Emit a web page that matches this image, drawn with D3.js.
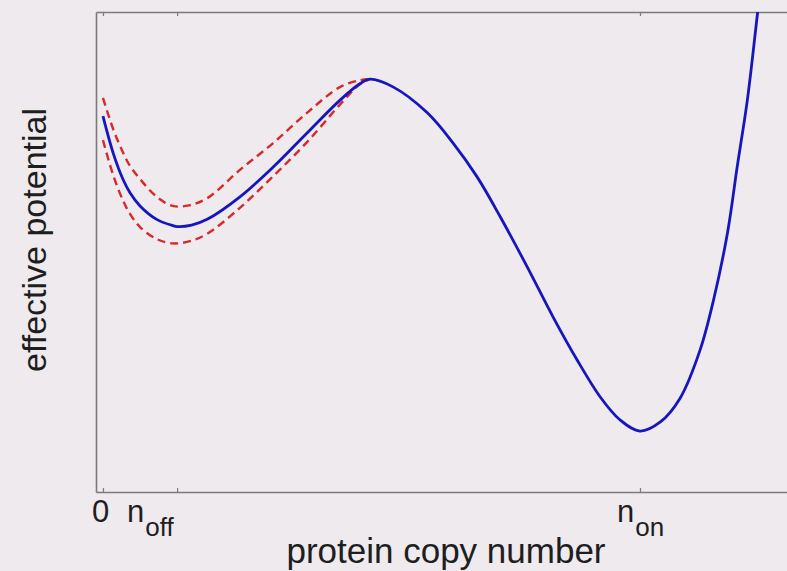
<!DOCTYPE html>
<html>
<head>
<meta charset="utf-8">
<script src="https://cdn.jsdelivr.net/npm/d3@7"></script>
<style>
  html, body { margin: 0; padding: 0; background: #eeeaee; }
  svg { display: block; }
  text { font-family: "Liberation Sans", Arial, Helvetica, sans-serif; fill: #1e1e1e; }
</style>
</head>
<body>
<script>
// Copy-number positions (n) and effective potential sampled along each curve
const nMean = [0, 1.9, 3.7, 5.0, 6.9, 10.0, 13.0, 13.8, 16.5, 19.4, 25.5, 31.7, 38.0, 44.2, 47.9, 49.7, 54.0, 60.4, 65.2, 69.7, 74.0, 79.0, 83.8, 88.3, 92.6, 96.3, 100, 103.8, 107.5, 111.2, 113.7, 116.3, 118.1, 120.0, 121.9, 122.8];
const potentialMean = [78.3, 70.6, 65.2, 62.4, 59.6, 56.8, 55.5, 55.3, 55.6, 56.8, 61.5, 67.7, 74.8, 81.7, 85.1, 86.0, 84.4, 79.0, 72.7, 65.6, 57.3, 46.9, 36.5, 27.5, 19.8, 15.0, 12.7, 14.6, 19.6, 29.6, 40.0, 54.0, 67.7, 81.7, 99.8, 108];

const nUpper = [0, 1.9, 3.7, 5.0, 6.9, 10.0, 13.0, 16.0, 19.4, 25.5, 31.7, 38.0, 44.2, 47.9, 49.7];
const potentialUpper = [82.1, 75.6, 70.8, 68.0, 65.2, 61.5, 59.6, 59.7, 61.2, 67.1, 72.7, 79.0, 84.4, 85.8, 86.0];

const nLower = [0, 1.9, 3.7, 5.0, 6.9, 10.0, 13.0, 16.0, 19.4, 25.5, 31.7, 38.0, 44.2, 47.9, 49.7];
const potentialLower = [73.3, 66.0, 60.8, 58.0, 55.2, 52.7, 51.8, 52.2, 53.8, 59.2, 65.8, 72.9, 80.8, 85.0, 86.0];

// Marked copy numbers on the horizontal axis
const tickValues = [0, 13.8, 100];
const tickNames = [["0", ""], ["n", "off"], ["n", "on"]];

const xLabel = "protein copy number";
const yLabel = "effective potential";

const W = 787, H = 571;
const plot = { left: 96, top: 12, right: 800, bottom: 492 };

// Horizontal placement of each tick label relative to its tick
const labelShift = [-11, -50, -23];

const x = d3.scaleLinear().domain([-1.3, 129.8]).range([plot.left, plot.right]);
const y = d3.scaleLinear().domain([0, 100]).range([plot.bottom, plot.top]);

const svg = d3.select("body").append("svg").attr("width", W).attr("height", H);

svg.append("defs").append("clipPath").attr("id", "plot-clip")
  .append("rect")
  .attr("x", plot.left).attr("y", plot.top)
  .attr("width", plot.right - plot.left).attr("height", plot.bottom - plot.top);

// Frame: bottom and top axes with inward ticks, plus the left edge
const axisStyle = g => {
  g.select(".domain").attr("stroke", "#7b7b7b").attr("stroke-width", 1.6);
  g.selectAll(".tick line").attr("stroke", "#7b7b7b").attr("stroke-width", 1.2);
  g.selectAll(".tick text").remove();
};

svg.append("g")
  .attr("transform", `translate(0,${plot.bottom})`)
  .call(d3.axisBottom(x).tickValues(tickValues).tickSizeInner(-4).tickSizeOuter(0))
  .call(axisStyle);

svg.append("g")
  .attr("transform", `translate(0,${plot.top})`)
  .call(d3.axisTop(x).tickValues(tickValues).tickSizeInner(-4).tickSizeOuter(0))
  .call(axisStyle);

svg.append("g")
  .attr("transform", `translate(${plot.left},0)`)
  .call(d3.axisLeft(y).tickValues([]).tickSizeOuter(0))
  .call(axisStyle);

// Curves
const line = d3.line().curve(d3.curveCatmullRom.alpha(0.5));
const toPts = (ns, vs) => ns.map((n, i) => [x(n), y(vs[i])]);

const curves = svg.append("g").attr("clip-path", "url(#plot-clip)");

[[nUpper, potentialUpper], [nLower, potentialLower]].forEach(([ns, vs]) => {
  curves.append("path")
    .attr("d", line(toPts(ns, vs)))
    .attr("fill", "none").attr("stroke", "#d62a2a").attr("stroke-width", 2.4)
    .attr("stroke-dasharray", "8,5");
});

curves.append("path")
  .attr("d", line(toPts(nMean, potentialMean)))
  .attr("fill", "none").attr("stroke", "#1616bc").attr("stroke-width", 2.8);

// Tick labels with subscripts
tickValues.forEach((v, i) => {
  const [main, sub] = tickNames[i];
  const t = svg.append("text")
    .attr("x", x(v) + labelShift[i])
    .attr("y", 522)
    .attr("text-anchor", "start")
    .style("font-size", "31px");
  t.append("tspan").text(main);
  if (sub) {
    t.append("tspan").attr("dy", 14).attr("dx", 1).style("font-size", "26px").text(sub);
  }
});

// Axis titles
svg.append("text")
  .attr("x", 446).attr("y", 563)
  .attr("text-anchor", "middle")
  .style("font-size", "35px")
  .text(xLabel);

svg.append("text")
  .attr("transform", `translate(46,${(plot.top + plot.bottom) / 2 - 12}) rotate(-90)`)
  .attr("text-anchor", "middle")
  .style("font-size", "34px")
  .text(yLabel);
</script>
</body>
</html>
